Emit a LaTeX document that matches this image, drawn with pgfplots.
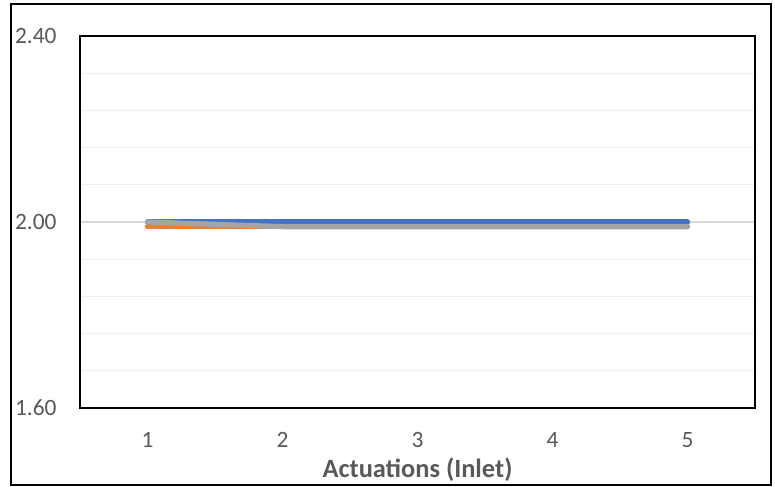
\documentclass[border=0pt]{standalone}
\usepackage{fontspec}
\setmainfont{Carlito}
\usepackage{pgfplots}
\pgfplotsset{compat=1.18}

\definecolor{serblue}{HTML}{4472C4}
\definecolor{serorange}{HTML}{ED7D31}
\definecolor{sergray}{HTML}{A5A5A5}
\definecolor{txtgray}{HTML}{595959}
\definecolor{gridmajor}{HTML}{D9D9D9}
\definecolor{gridminor}{HTML}{EEEEEE}

\begin{document}
\begin{tikzpicture}
  \begin{axis}[
      at={(0,0)}, anchor=south west,
      scale only axis,
      width=337.5bp, height=186bp,
      xmin=0.5, xmax=5.5,
      ymin=1.6, ymax=2.4,
      xtick={1,2,3,4,5},
      ytick={1.6,2.0,2.4},
      minor y tick num=4,
      ymajorgrids, yminorgrids,
      major grid style={draw=gridmajor, line width=0.6bp},
      minor grid style={draw=gridminor, line width=0.5bp},
      major tick length=0pt, minor tick length=0pt,
      axis line style={line width=1bp, black},
      ticklabel style={font=\fontsize{11.7bp}{13bp}\selectfont, text=txtgray},
      /pgf/number format/assume math mode=true,
      yticklabel style={/pgf/number format/fixed, /pgf/number format/fixed zerofill,
        /pgf/number format/precision=2, anchor=east, inner sep=0pt, xshift=-11.5bp},
      xticklabel style={anchor=base, inner sep=0pt, yshift=-19.75bp},
      xlabel={\textbf{Actuations (Inlet)}},
      xlabel style={font=\fontsize{13.2bp}{15bp}\selectfont, text=txtgray,
        at={(axis description cs:0.5,0)}, anchor=center, inner sep=0pt, yshift=-31bp},
      every axis plot/.append style={line width=2.6bp, line cap=round, line join=round},
    ]
    \addplot[serblue] coordinates {(1,2.00) (2,2.00) (3,2.00) (4,2.00) (5,2.00)};
    \addplot[serorange] coordinates {(1,1.99) (2,1.99) (3,1.99) (4,1.99) (5,1.99)};
    \addplot[sergray] coordinates {(1,2.00) (2,1.99) (3,1.99) (4,1.99) (5,1.99)};
  \end{axis}
  \draw[line width=0.9bp, black] (-34.5bp,-38.5bp) rectangle (345.5bp,202bp);
  \path (-40bp,-39.5bp) rectangle (347.5bp,204bp);
\end{tikzpicture}
\end{document}
